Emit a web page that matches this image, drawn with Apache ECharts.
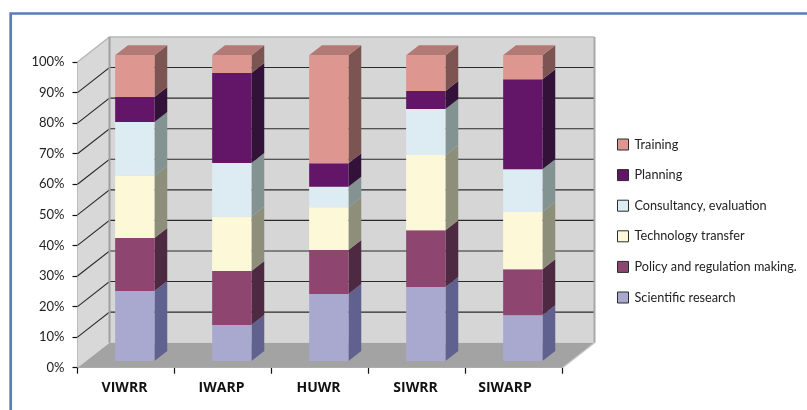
<!DOCTYPE html>
<html>
<head>
<meta charset="utf-8">
<style>html,body{margin:0;padding:0;background:#fff}#chart{width:807px;height:410px}</style>
<script src="https://cdn.jsdelivr.net/npm/echarts@6/dist/echarts.min.js"></script>
</head>
<body>
<div id="chart"></div>
<script>
// Share of each activity per institute, in percent
const categories = ['VIWRR', 'IWARP', 'HUWR', 'SIWRR', 'SIWARP'];
const scientific = [22.9, 11.8, 21.9, 24.2, 15.0];
const policy     = [17.3, 17.6, 14.4, 18.6, 15.0];
const technology = [20.4, 17.8, 14.0, 24.6, 18.7];
const consulting = [17.6, 17.6,  6.7, 15.0, 14.0];
const planning   = [ 8.2, 29.4,  7.7,  5.9, 29.5];
const training   = [13.6,  5.8, 35.3, 11.7,  7.8];

// Drawn bottom to top; each entry has front, side and top face colours
const stackOrder = [
  { name: 'Scientific research', values: scientific, front: '#a9a8cf', side: '#61618f', top: '#8786a8' },
  { name: 'Policy and regulation making.', values: policy, front: '#8e4670', side: '#4d2942', top: '#6f3858' },
  { name: 'Technology transfer', values: technology, front: '#fdf9d8', side: '#8e8f7a', top: '#c8c6ac' },
  { name: 'Consultancy, evaluation', values: consulting, front: '#ddebf2', side: '#829392', top: '#b0bcc1' },
  { name: 'Planning', values: planning, front: '#631668', side: '#321238', top: '#4d1152' },
  { name: 'Training', values: training, front: '#dd9790', side: '#7c5552', top: '#b37a75' }
];
const legendOrder = ['Training', 'Planning', 'Consultancy, evaluation', 'Technology transfer', 'Policy and regulation making.', 'Scientific research'];
const yTicks = [0, 10, 20, 30, 40, 50, 60, 70, 80, 90, 100];

// Oblique projection used for the pseudo-3D box
const WALL_DX = 32, WALL_DY = -25;
const BAR_NEAR_DX = 8.8, BAR_NEAR_DY = -6.7;
const BAR_DEPTH_DX = 12.8, BAR_DEPTH_DY = -10;
const BAR_WIDTH = 39.3;
const FONT = '"Open Sans", sans-serif';
const LIGHT_FONT = 'Lato, sans-serif';

function renderRoom(params, api) {
  const r = params.coordSys;
  const x0 = r.x, x1 = r.x + r.width;
  const y0 = r.y + r.height, yTop = r.y;
  const shape = (points, fill, stroke, width) => ({
    type: 'polygon', shape: { points },
    style: { fill, stroke: stroke || 'none', lineWidth: width || 0 }
  });
  const line = (points, stroke, width) => ({
    type: 'polyline', shape: { points },
    style: { fill: 'none', stroke, lineWidth: width }
  });
  const children = [
    shape([[x0 + WALL_DX, yTop + WALL_DY], [x1 + WALL_DX, yTop + WALL_DY], [x1 + WALL_DX, y0 + WALL_DY], [x0 + WALL_DX, y0 + WALL_DY]], '#d6d6d6'),
    shape([[x0, yTop], [x0 + WALL_DX, yTop + WALL_DY], [x0 + WALL_DX, y0 + WALL_DY], [x0, y0]], '#d8d8d8'),
    shape([[x0, y0], [x0 + WALL_DX, y0 + WALL_DY], [x1 + WALL_DX, y0 + WALL_DY], [x1, y0]], '#a3a3a3')
  ];
  yTicks.filter(v => v > 0 && v < 100).forEach(v => {
    const y = api.coord([0, v])[1];
    children.push(line([[x0, y], [x0 + WALL_DX, y + WALL_DY], [x1 + WALL_DX, y + WALL_DY]], '#2a2a2a', 1.1));
  });
  children.push(
    line([[x0, yTop], [x0 + WALL_DX, yTop + WALL_DY], [x1 + WALL_DX, yTop + WALL_DY]], '#b8b8b8', 1.5),
    line([[x0 + WALL_DX, yTop + WALL_DY], [x0 + WALL_DX, y0 + WALL_DY]], '#a0a0a0', 2),
    line([[x1 + WALL_DX, yTop + WALL_DY], [x1 + WALL_DX, y0 + WALL_DY]], '#a8a8a8', 2),
    line([[x1, y0], [x1 + WALL_DX, y0 + WALL_DY]], '#c4c4c4', 1.2)
  );
  return { type: 'group', children };
}

function renderSegment(params, api) {
  const item = stackOrder[params.seriesIndex - 1];
  const low = api.coord([api.value(0), api.value(1)]);
  const high = api.coord([api.value(0), api.value(2)]);
  const l = low[0] + BAR_NEAR_DX - BAR_WIDTH / 2, r = l + BAR_WIDTH;
  const yb = low[1] + BAR_NEAR_DY, yt = high[1] + BAR_NEAR_DY;
  const dx = BAR_DEPTH_DX, dy = BAR_DEPTH_DY;
  const face = (points, fill) => ({ type: 'polygon', shape: { points }, style: { fill } });
  const children = [
    face([[r, yb], [r + dx, yb + dy], [r + dx, yt + dy], [r, yt]], item.side),
    face([[l, yb], [r, yb], [r, yt], [l, yt]], item.front)
  ];
  if (params.seriesIndex === stackOrder.length) {
    children.push(face([[l, yt], [r, yt], [r + dx, yt + dy], [l + dx, yt + dy]], item.top));
  }
  return { type: 'group', children };
}

const base = categories.map(() => 0);
const stackSeries = stackOrder.map(item => {
  const data = item.values.map((v, i) => {
    const row = [i, base[i], base[i] + v];
    base[i] += v;
    return row;
  });
  return {
    type: 'custom', name: item.name, renderItem: renderSegment, data,
    encode: { x: 0, y: [1, 2] }, itemStyle: { color: item.front }, z: 5, silent: true
  };
});

const chart = echarts.init(document.getElementById('chart'), null, { renderer: 'canvas' });
chart.setOption({
  animation: false,
  backgroundColor: '#fff',
  graphic: [{
    type: 'rect', silent: true, z: 0,
    shape: { x: 10.7, y: 13.5, width: 900, height: 500 },
    style: { fill: 'none', stroke: '#5a7cbd', lineWidth: 2.7 }
  }],
  grid: { left: 77.5, top: 62, width: 485, height: 305.7, containLabel: false },
  legend: {
    left: 617, top: 138, orient: 'vertical', icon: 'rect', padding: 0,
    itemWidth: 11, itemHeight: 11, itemGap: 17.6,
    data: legendOrder, selectedMode: false,
    itemStyle: { borderColor: '#2b2b2b', borderWidth: 1 },
    textStyle: { fontFamily: LIGHT_FONT, fontSize: 12.7, color: '#222', padding: [0, 0, 0, 1] }
  },
  xAxis: {
    type: 'category', data: categories, boundaryGap: true,
    axisLine: { show: true, lineStyle: { color: '#c4c4c4', width: 1.2 } },
    axisTick: { show: true, length: 6, lineStyle: { color: '#111', width: 1.2 } },
    axisLabel: {
      margin: 13, interval: 0,
      formatter: name => name === 'SIWARP' ? '{far|' + name + '}' : '{near|' + name + '}',
      rich: {
        near: { fontFamily: FONT, fontWeight: 'bold', fontSize: 14, color: '#111', padding: [0, 3, 0, 0] },
        far: { fontFamily: FONT, fontWeight: 'bold', fontSize: 14, color: '#111', padding: [0, 18, 0, 0] }
      }
    },
    splitLine: { show: false }
  },
  yAxis: {
    type: 'value', min: 0, max: 100, interval: 10,
    axisLine: { show: true, lineStyle: { color: '#808080', width: 1.5 } },
    axisTick: { show: true, length: 5, lineStyle: { color: '#111', width: 1.2 } },
    axisLabel: { margin: 13, formatter: '{value}%', fontFamily: LIGHT_FONT, fontSize: 13, color: '#222' },
    splitLine: { show: false }
  },
  series: [{
    type: 'custom', renderItem: renderRoom, data: [[0, 0]], z: 1, silent: true,
    encode: { x: 0, y: 1 }
  }].concat(stackSeries)
});
</script>
</body>
</html>
